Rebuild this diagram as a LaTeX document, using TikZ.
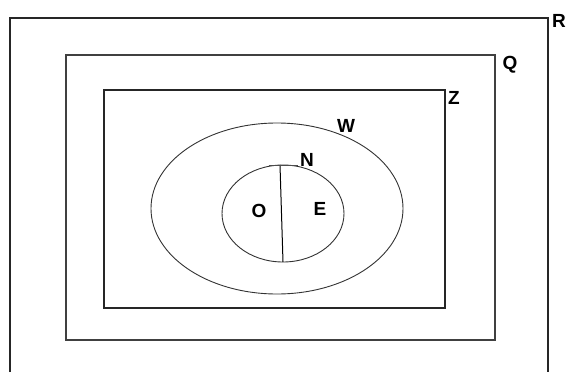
\documentclass[tikz,border=0pt]{standalone}
\usepackage{fontspec}
\setmainfont{Liberation Sans}
\begin{document}
\begin{tikzpicture}[x=1pt,y=-1pt,
  setbox/.style={draw=black!85,line width=1.3pt},
  setoval/.style={draw=black!80,line width=0.9pt},
  lab/.style={font=\fontsize{19}{19}\selectfont\bfseries,inner sep=0pt}]
\useasboundingbox (0,0) rectangle (570,372);
% R (open at bottom)
\coordinate (Rbl) at (10,372);
\coordinate (Rtl) at (10,18);
\coordinate (Rtr) at (548,18);
\coordinate (Rbr) at (548,372);
\draw[setbox] (Rbl) -- (Rtl) -- (Rtr) -- (Rbr);
\node[lab] (R) at (559,20.5) {R};
% Q
\coordinate (Qa) at (66,55);
\coordinate (Qb) at (495,340);
\draw[setbox,draw=black!75] (Qa) rectangle (Qb);
\node[lab] (Q) at (510,65) {Q};
% Z
\coordinate (Za) at (104,90);
\coordinate (Zb) at (445,308);
\draw[setbox] (Za) rectangle (Zb);
\node[lab] (Z) at (454,98) {Z};
% W
\coordinate (Wc) at (277,208.5);
\draw[setoval] (Wc) ellipse [x radius=126, y radius=85.5];
\node[lab] (W) at (346,126) {W};
% N
\coordinate (Nc) at (283,213.5);
\draw[setoval] (Nc) ellipse [x radius=61, y radius=48.5];
\node[lab] (N) at (307,160) {N};
% dividing line
\coordinate (Lt) at (280,165);
\coordinate (Lb) at (283,262);
\coordinate (Tl) at (269,165);
\coordinate (Tr) at (298,165);
\draw[line width=1pt] (Lt) -- (Lb);
\draw[line width=0.9pt,black!70] (Tl) -- (Tr);
\node[lab] (O) at (259,211) {O};
\node[lab] (E) at (320,209) {E};
\end{tikzpicture}
\end{document}
